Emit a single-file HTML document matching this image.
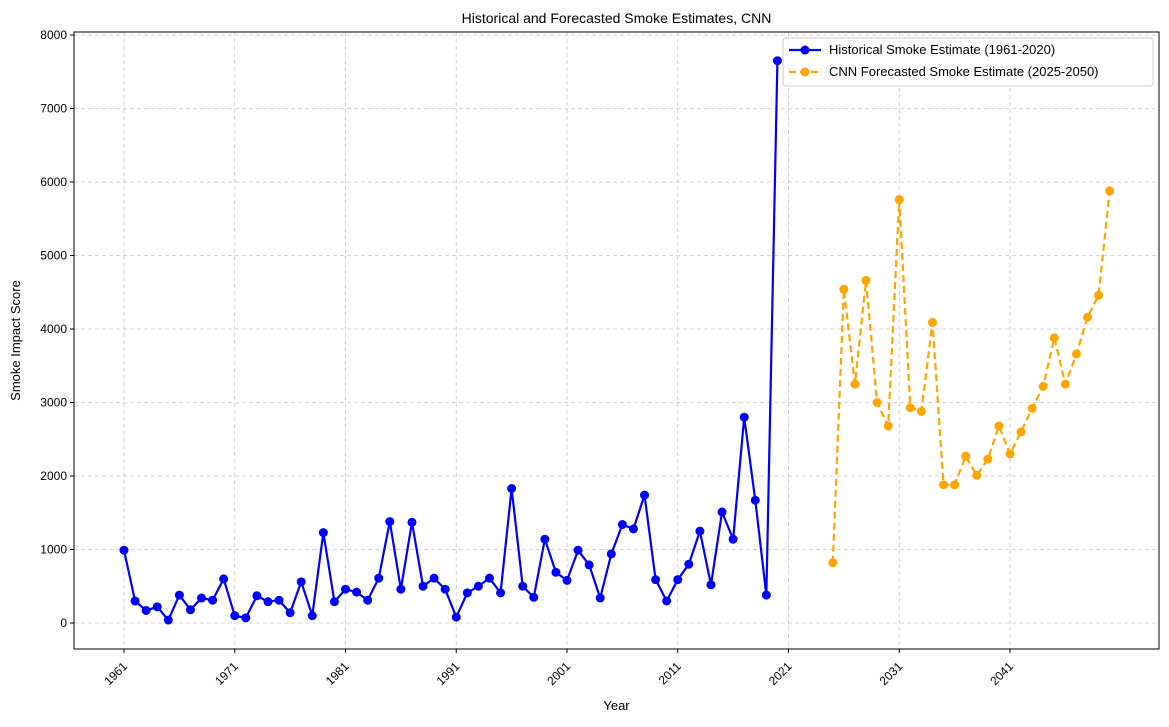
<!DOCTYPE html>
<html><head><meta charset="utf-8"><style>
body{margin:0;background:#fff;font-family:"Liberation Sans","DejaVu Sans",sans-serif}
svg text{font-family:"Liberation Sans","DejaVu Sans",sans-serif}
</style></head><body>
<svg id="chart" width="1169" height="722" xmlns="http://www.w3.org/2000/svg"></svg>
<script>
const histYears=[1961,1962,1963,1964,1965,1966,1967,1968,1969,1970,1971,1972,1973,1974,1975,1976,1977,1978,1979,1980,1981,1982,1983,1984,1985,1986,1987,1988,1989,1990,1991,1992,1993,1994,1995,1996,1997,1998,1999,2000,2001,2002,2003,2004,2005,2006,2007,2008,2009,2010,2011,2012,2013,2014,2015,2016,2017,2018,2019,2020];
const histValues=[990,300,170,220,40,380,180,340,310,600,100,70,370,290,310,140,560,100,1230,290,460,420,310,610,1380,460,1370,500,610,460,80,410,500,610,410,1830,500,350,1140,690,580,990,790,340,940,1340,1280,1740,590,300,590,800,1250,520,1510,1140,2800,1670,380,7650];
const fcYears=[2025,2026,2027,2028,2029,2030,2031,2032,2033,2034,2035,2036,2037,2038,2039,2040,2041,2042,2043,2044,2045,2046,2047,2048,2049,2050];
const fcValues=[820,4540,3250,4660,3000,2680,5760,2930,2880,4090,1880,1880,2270,2010,2230,2680,2300,2600,2920,3220,3880,3250,3660,4160,4460,5880];
const xTicks=[1961,1971,1981,1991,2001,2011,2021,2031,2041];
const yTicks=[0,1000,2000,3000,4000,5000,6000,7000,8000];

const L=74,R=1159,T=32,B=649;
const xs=y=>124+(y-1961)*11.075;
const ys=v=>623-v*0.0735;
const svg=document.getElementById('chart');
const NS='http://www.w3.org/2000/svg';
function mk(tag,attrs,parent){const e=document.createElementNS(NS,tag);for(const k in attrs)e.setAttribute(k,attrs[k]);(parent||svg).appendChild(e);return e;}

const grid=mk('g',{});


xTicks.forEach(t=>{
  mk('line',{x1:xs(t),x2:xs(t),y1:T,y2:B,stroke:'#c8c8c8','stroke-dasharray':'4,3','stroke-width':0.8},grid);
  mk('line',{x1:xs(t),x2:xs(t),y1:B,y2:B+4,stroke:'#000'});
  const tx=mk('text',{x:xs(t)+4,y:B+18,'font-size':12,'text-anchor':'end',transform:`rotate(-45 ${xs(t)+4} ${B+18})`});
  tx.textContent=t;
  
  
});
yTicks.forEach(t=>{
  mk('line',{x1:L,x2:R,y1:ys(t),y2:ys(t),stroke:'#c8c8c8','stroke-dasharray':'4,3','stroke-width':0.8},grid);
  mk('line',{x1:L-4,x2:L,y1:ys(t),y2:ys(t),stroke:'#000'});
  const tx=mk('text',{x:L-7,y:ys(t)+4,'font-size':12,'text-anchor':'end'});
  tx.textContent=t;
  
  
});
const frame=mk('rect',{x:L,y:T,width:R-L,height:B-T,fill:'none',stroke:'#000','stroke-width':1});



function series(years,vals,color,dash,name){
  const g=mk('g',{});
  
  
  const pts=years.map((y,i)=>xs(y)+','+ys(vals[i])).join(' ');
  const a={points:pts,fill:'none',stroke:color,'stroke-width':2.2};
  if(dash)a['stroke-dasharray']='7,4';
  mk('polyline',a,g);
  years.forEach((y,i)=>{
    const c=mk('circle',{cx:xs(y),cy:ys(vals[i]),r:4.5,fill:color},g);
    
    
  });
}
series(histYears,histValues,'#0000ff',false,'historical-series');
series(fcYears,fcValues,'#ffa500',true,'forecast-series');

const title=mk('text',{x:(L+R)/2,y:23,'font-size':14,'text-anchor':'middle'});
title.textContent='Historical and Forecasted Smoke Estimates, CNN';


const xl=mk('text',{x:(L+R)/2,y:710,'font-size':13,'text-anchor':'middle'});
xl.textContent='Year';


const yl=mk('text',{x:20,y:(T+B)/2,'font-size':13,'text-anchor':'middle',transform:`rotate(-90 20 ${(T+B)/2})`});
yl.textContent='Smoke Impact Score';



const lg=mk('g',{});


mk('rect',{x:783,y:38,width:370,height:48,rx:3,fill:'#fff','fill-opacity':0.85,stroke:'#ccc'},lg);
mk('line',{x1:789,x2:821,y1:50,y2:50,stroke:'#0000ff','stroke-width':2.2},lg);
mk('circle',{cx:805,cy:50,r:4.5,fill:'#0000ff'},lg);
const t1=mk('text',{x:829,y:54,'font-size':13},lg);
t1.textContent='Historical Smoke Estimate (1961-2020)';


mk('line',{x1:789,x2:821,y1:72,y2:72,stroke:'#ffa500','stroke-width':2.2,'stroke-dasharray':'7,4'},lg);
mk('circle',{cx:805,cy:72,r:4.5,fill:'#ffa500'},lg);
const t2=mk('text',{x:829,y:76,'font-size':13},lg);
t2.textContent='CNN Forecasted Smoke Estimate (2025-2050)';


</script>
</body></html>
